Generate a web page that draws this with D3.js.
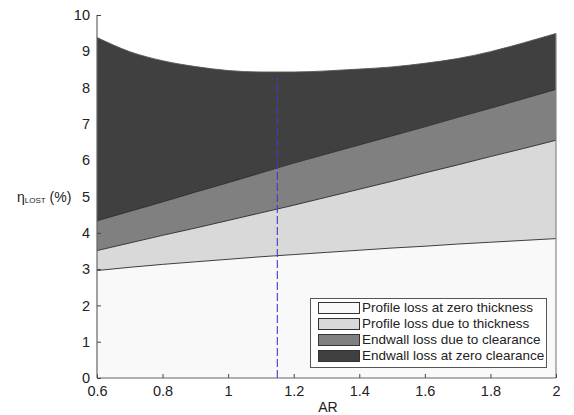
<!DOCTYPE html>
<html><head><meta charset="utf-8">
<script src="https://cdn.jsdelivr.net/npm/d3@7"></script>
<style>body{margin:0;background:#fff}svg{display:block;font-family:"Liberation Sans",Arial,sans-serif}</style>
</head><body><svg id="c" width="574" height="415"></svg>
<script>
// AR sample positions
const AR = [0.6,0.7,0.8,0.9,1.0,1.1,1.2,1.3,1.4,1.5,1.6,1.7,1.8,1.9,2.0];
// Cumulative (stacked) boundaries, eta_LOST (%)
const profileZeroTop  = [2.96,3.05,3.13,3.20,3.27,3.34,3.40,3.46,3.52,3.58,3.63,3.69,3.74,3.79,3.84];
const profileThickTop = [3.51,3.72,3.93,4.13,4.34,4.55,4.76,4.98,5.20,5.42,5.65,5.87,6.10,6.32,6.55];
const endwallClearTop = [4.33,4.59,4.85,5.12,5.38,5.65,5.92,6.17,6.42,6.67,6.92,7.18,7.43,7.69,7.95];
const endwallZeroTop  = [9.38,8.99,8.74,8.58,8.47,8.43,8.43,8.46,8.51,8.57,8.67,8.80,8.99,9.23,9.49];
const seriesNames = ["Profile loss at zero thickness","Profile loss due to thickness","Endwall loss due to clearance","Endwall loss at zero clearance"];
const seriesColors = ["#f9f9f9","#d9d9d9","#808080","#404040"];
const optimumAR = 1.15;
const xTicks = [0.6,0.8,1,1.2,1.4,1.6,1.8,2];
const yTicks = [0,1,2,3,4,5,6,7,8,9,10];

const svg = d3.select("#c");
const x = d3.scaleLinear().domain([0.6,2]).range([97,556]);
const y = d3.scaleLinear().domain([0,10]).range([378,15]);

const bounds = [AR.map(()=>0), profileZeroTop, profileThickTop, endwallClearTop, endwallZeroTop];
const curve = d3.curveMonotoneX;
for (let k=0;k<4;k++){
  const lo = bounds[k], hi = bounds[k+1];
  const area = d3.area().curve(curve).x((d,i)=>x(AR[i])).y0((d,i)=>y(lo[i])).y1((d,i)=>y(hi[i]));
  svg.append("path").datum(AR).attr("d",area).attr("fill",seriesColors[k]);
}
for (let k=1;k<=4;k++){
  const line = d3.line().curve(curve).x((d,i)=>x(AR[i])).y((d,i)=>y(bounds[k][i]));
  svg.append("path").datum(AR).attr("d",line).attr("fill","none")
    .attr("stroke", k===4 ? "#555" : "#2a2a2a").attr("stroke-width",0.9);
}
// right edge
svg.append("line").attr("x1",x(2)).attr("x2",x(2)).attr("y1",y(0)).attr("y2",y(endwallZeroTop[endwallZeroTop.length-1]))
  .attr("stroke","#888").attr("stroke-width",1.2);

// dashed optimum line
svg.append("line").attr("x1",x(optimumAR)).attr("x2",x(optimumAR)).attr("y1",y(0)).attr("y2",y(8.28))
  .attr("stroke","#3b3bd6").attr("stroke-width",1.1).attr("stroke-dasharray","8,3");

// axes
const xAxis = d3.axisBottom(x).tickValues(xTicks).tickSize(-4).tickPadding(8).tickFormat(d3.format("~g"));
const gx = svg.append("g").attr("transform",`translate(0,${y(0)})`).call(xAxis);
const yAxis = d3.axisLeft(y).tickValues(yTicks).tickSize(-4).tickPadding(7).tickFormat(d3.format("d"));
const gy = svg.append("g").attr("transform",`translate(${x(0.6)},0)`).call(yAxis);
[gx,gy].forEach(g=>{
  g.select(".domain").attr("stroke","#666").attr("stroke-width",1.2);
  g.selectAll(".tick line").attr("stroke","#444");
  g.selectAll(".tick text").attr("fill","#222").style("font-size","14.5px").style("font-family","'Liberation Sans',Arial,sans-serif");
});
gy.select(".domain").attr("d",`M-0,${y(10)}H0V${y(0)}`);
gx.select(".domain").attr("d",`M${x(0.6)},0V0H${x(2)}`);

// axis titles
svg.append("text").attr("x",328).attr("y",412).attr("text-anchor","middle")
  .style("font-size","14px").attr("fill","#222").text("AR");
const yt = svg.append("text").attr("x",17).attr("y",202).style("font-size","14px").attr("fill","#222");
yt.append("tspan").text("η");
yt.append("tspan").attr("dy",1).style("font-size","8px").text("LOST");
yt.append("tspan").attr("dy",-1).text(" (%)");

// legend
const lg = svg.append("g");
lg.append("rect").attr("x",310.5).attr("y",298.5).attr("width",236).attr("height",69).attr("fill","#fff").attr("stroke","#555").attr("stroke-width",1);
seriesNames.forEach((n,i)=>{
  const yy = 302 + i*16;
  lg.append("rect").attr("x",318.5).attr("y",yy+0.5).attr("width",41).attr("height",11).attr("fill",seriesColors[i]).attr("stroke","#333").attr("stroke-width",1);
  lg.append("text").attr("x",362).attr("y",yy+6).attr("dominant-baseline","middle").style("font-size","13.5px").attr("fill","#222").text(n);
});
</script></body></html>
